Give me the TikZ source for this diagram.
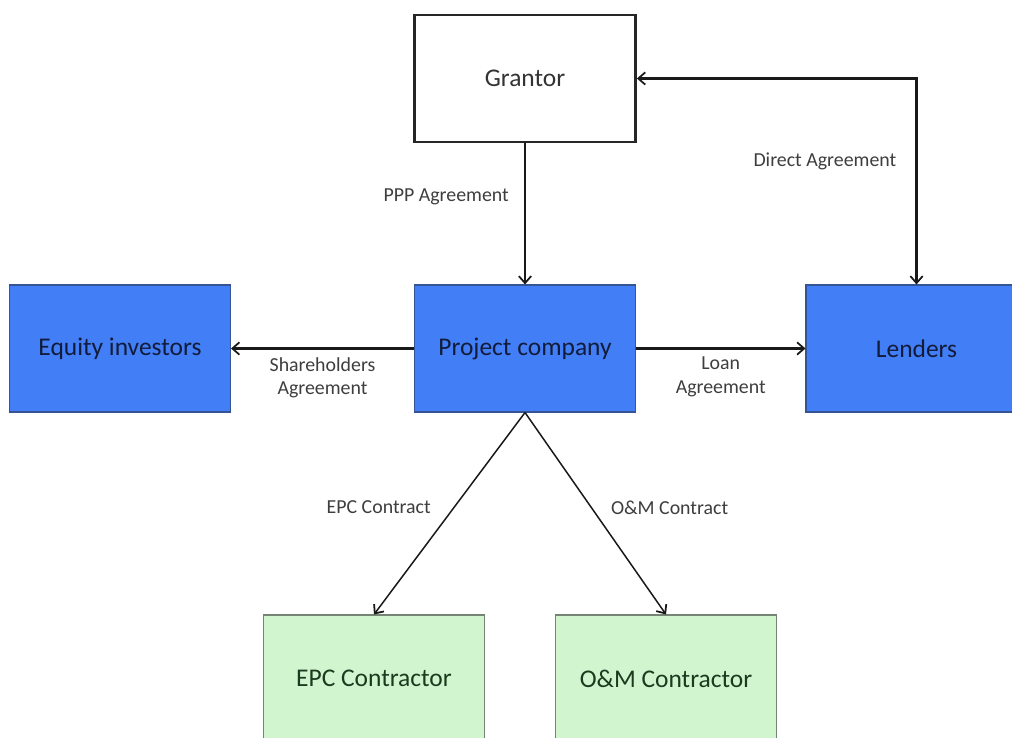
\documentclass[tikz,border=0pt]{standalone}
\usepackage{fontspec}
\setmainfont{Carlito}
\usetikzlibrary{arrows.meta}
\definecolor{party}{RGB}{66,126,245}
\definecolor{partyline}{RGB}{52,84,150}
\definecolor{partytext}{RGB}{18,28,58}
\definecolor{contractor}{RGB}{208,245,207}
\definecolor{contractorline}{RGB}{118,132,118}
\definecolor{contractortext}{RGB}{28,58,30}
\definecolor{labeltext}{RGB}{62,62,62}

\begin{document}
\begin{tikzpicture}[
  >={Straight Barb[length=4pt,width=7pt,line width=1pt]},
  box/.style={rectangle,minimum width=4.42cm,minimum height=2.54cm,inner sep=0pt,
              font=\fontsize{14.5}{17}\selectfont},
  grantorbox/.style={box,draw=black!85,fill=white,text=black!80,line width=1.6pt},
  partybox/.style={box,draw=partyline,fill=party,text=partytext,line width=0.6pt},
  contractbox/.style={box,draw=contractorline,fill=contractor,text=contractortext,line width=0.6pt},
  link/.style={black!90,line width=1.4pt},
  thinlink/.style={black!90,line width=0.85pt},
  lbl/.style={font=\fontsize{11.3}{13.5}\selectfont,text=labeltext,inner sep=0pt,align=center}
]
\useasboundingbox (0,0) rectangle (20.24,14.76);

% Parties, placed on the 50px-per-cm grid of the original sheet.
\node[grantorbox]  (grantor) at (10.50,13.19) {Grantor};
\node[partybox]    (equity)  at (2.40,7.79)   {Equity investors};
\node[partybox]    (project) at (10.50,7.79)  {Project company};
\node[partybox]    (lenders) at (18.33,7.79)  {Lenders};
\node[contractbox] (epc)     at (7.48,1.19)   {EPC Contractor};
\node[contractbox] (om)      at (13.32,1.19)  {O\&M Contractor};

% Agreements between the parties.
\draw[link,->] (grantor) -- (project)
  node[lbl,pos=0.38,left=0.3cm] (ppp) {PPP Agreement};
\draw[link,<->] (lenders.north) |- (grantor.east)
  node[lbl,pos=0.3,left=0.38cm] (direct) {Direct Agreement};
\draw[link,->] (project) -- (equity)
  node[lbl,pos=0.5,below=0.15cm] (share) {Shareholders\\Agreement};
\draw[link,->] (project) -- (lenders)
  node[lbl,pos=0.5,below=0.15cm] (loan) {Loan\\Agreement};
\draw[thinlink,->] (project.south) -- (epc.north)
  node[lbl,pos=0.47,left=0.45cm] (epcc) {EPC Contract};
\draw[thinlink,->] (project.south) -- (om.north)
  node[lbl,pos=0.47,right=0.38cm] (omc) {O\&M Contract};
\end{tikzpicture}
\end{document}
